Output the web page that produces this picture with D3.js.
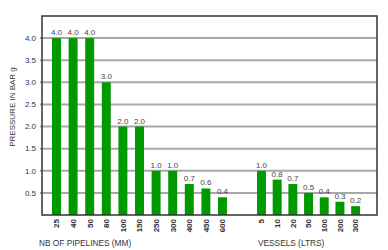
<!DOCTYPE html>
<html>
<head>
<meta charset="utf-8">
<script src="https://cdn.jsdelivr.net/npm/d3@7"></script>
<style>
  body { margin: 0; background: #fff; }
  text { font-family: "Liberation Sans", Arial, sans-serif; fill: #333; }
</style>
</head>
<body>
<div id="chart"></div>
<script>
var pipeSizes = ["25", "40", "50", "80", "100", "150", "250", "300", "400", "450", "600"];
var pipeValues = [4.0, 4.0, 4.0, 3.0, 2.0, 2.0, 1.0, 1.0, 0.7, 0.6, 0.4];
var vesselSizes = ["5", "10", "20", "50", "100", "200", "300"];
var vesselValues = [1.0, 0.8, 0.7, 0.5, 0.4, 0.3, 0.2];
var yTicks = [0.5, 1.0, 1.5, 2.0, 2.5, 3.0, 3.5, 4.0];

(function() {
    var width = 388, height = 250;
    var plotLeft = 42, plotRight = 377, plotTop = 16, plotBottom = 215;

    var svg = d3.select("#chart").append("svg")
        .attr("width", width)
        .attr("height", height);

    var y = d3.scaleLinear().domain([0, 4.5]).range([plotBottom, plotTop]);

    var xPipe = d3.scaleBand().domain(pipeSizes).range([48.2, 230.8]).paddingInner(0.46).paddingOuter(0.23);
    var xVessel = d3.scaleBand().domain(vesselSizes).range([253.7, 363.4]).paddingInner(0.43).paddingOuter(0.21);

    // grid lines
    svg.append("g").selectAll("line")
        .data(yTicks)
        .enter().append("line")
        .attr("x1", plotLeft - 2)
        .attr("x2", plotRight)
        .attr("y1", function(d) { return y(d); })
        .attr("y2", function(d) { return y(d); })
        .style("stroke", "#a8a8a8")
        .style("stroke-width", 2);

    // y axis labels
    svg.append("g").selectAll("text")
        .data(yTicks)
        .enter().append("text")
        .attr("x", plotLeft - 6)
        .attr("y", function(d) { return y(d); })
        .attr("dy", "0.35em")
        .attr("text-anchor", "end")
        .style("font-size", "8px")
        .text(function(d) { return d.toFixed(1); });

    function drawGroup(cls, scale, cats, vals) {
        var data = cats.map(function(c, i) { return { cat: c, val: vals[i] }; });
        var g = svg.append("g").attr("class", cls);
        g.selectAll("rect")
            .data(data)
            .enter().append("rect")
            .attr("x", function(d) { return scale(d.cat); })
            .attr("width", scale.bandwidth())
            .attr("y", function(d) { return y(d.val); })
            .attr("height", function(d) { return plotBottom - y(d.val); })
            .style("fill", "#009900");
        g.selectAll("text.val")
            .data(data)
            .enter().append("text")
            .attr("class", "val")
            .attr("x", function(d) { return scale(d.cat) + scale.bandwidth() / 2; })
            .attr("y", function(d) { return y(d.val) - 3; })
            .attr("text-anchor", "middle")
            .style("font-size", "8px")
            .style("fill", "#444")
            .text(function(d) { return d.val.toFixed(1); });
        g.selectAll("text.cat")
            .data(data)
            .enter().append("text")
            .attr("class", "cat")
            .attr("transform", function(d) {
                return "translate(" + (scale(d.cat) + scale.bandwidth() / 2) + "," + (plotBottom + 4) + ")rotate(-90)";
            })
            .attr("dy", "0.35em")
            .attr("text-anchor", "end")
            .style("font-size", "8px")
            .style("font-weight", "bold")
            .text(function(d) { return d.cat; });
    }

    drawGroup("pipes", xPipe, pipeSizes, pipeValues);
    drawGroup("vessels", xVessel, vesselSizes, vesselValues);

    // frame
    svg.append("path")
        .attr("d", "M" + plotLeft + "," + plotBottom + "V" + plotTop + "H" + plotRight + "V" + plotBottom + "Z")
        .style("fill", "none")
        .style("stroke", "#333")
        .style("stroke-width", 1.5);

    // titles
    svg.append("text")
        .attr("transform", "translate(12," + ((67 + 147) / 2) + ")rotate(-90)")
        .attr("dy", "0.35em")
        .attr("text-anchor", "middle")
        .style("font-size", "8px")
        .text("PRESSURE IN BAR g");

    svg.append("text")
        .attr("x", 39)
        .attr("y", 246)
        .style("font-size", "8.3px")
        .text("NB OF PIPELINES (MM)");

    svg.append("text")
        .attr("x", 258)
        .attr("y", 246)
        .style("font-size", "8.3px")
        .text("VESSELS (LTRS)");
})();
</script>
</body>
</html>
